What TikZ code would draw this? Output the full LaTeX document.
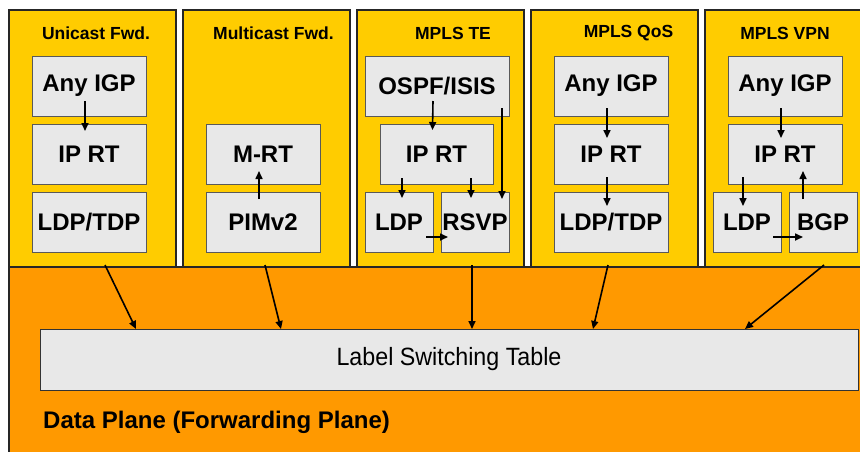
\documentclass[tikz,border=0pt]{standalone}
\usepackage{fontspec}
\setmainfont{Liberation Sans}
\newfontfamily\narrowfont{Liberation Sans}[FakeStretch=0.93]
\usetikzlibrary{arrows.meta,calc}
\definecolor{ctlyellow}{HTML}{FFCC00}
\definecolor{dporange}{HTML}{FF9900}
\definecolor{boxgray}{HTML}{E8E8E8}

\begin{document}
\begin{tikzpicture}[x=1pt,y=-1pt,>={Triangle[length=8pt,width=7pt]},
  col/.style={draw=black!85,line width=1.2pt,fill=ctlyellow,anchor=north west,
    inner sep=0,outer sep=0,minimum height=257pt},
  ttl/.style={font=\bfseries\fontsize{17.5}{20}\selectfont},
  blk/.style={draw=black!65,line width=0.8pt,fill=boxgray,inner sep=0,outer sep=0,
    minimum height=60pt,font=\bfseries\fontsize{24}{26}\selectfont},
  arr/.style={->,line width=1.6pt}]
  \clip (0,0) rectangle (860,451);
  \foreach \x/\w/\name in {9/167/uni,183/167/mul,357/167/te,531/167/qos,705/165/vpn}
    {\node[col,minimum width=\w pt] (\name) at (\x,10) {};}
  \foreach \x/\txt/\name in {96/Unicast Fwd./tuni,273.5/Multicast Fwd./tmul,453/MPLS TE/tte,
      628.5/MPLS QoS/tqos,785/MPLS VPN/tvpn}
    {\node[ttl] (\name) at (\x,33) {\txt};}

  \node[blk,minimum width=114pt] (igpA) at (89,86) {Any IGP};
  \node[blk,minimum width=114pt] (ipA) at (89,154) {IP RT};
  \node[blk,minimum width=114pt] (ldpA) at (89,222) {LDP/TDP};
  \draw[arr] ($(igpA.south)+(-4,-15)$) -- ($(ipA.north)+(-4,7)$);

  \node[blk,minimum width=114pt] (mrt) at (263,154) {M-RT};
  \node[blk,minimum width=114pt] (pim) at (263,222) {PIMv2};
  \draw[arr] ($(pim.north)+(-4,7)$) -- ($(mrt.south)+(-4,-13)$);

  \node[blk,minimum width=144pt] (ospf) at (437,86) {OSPF/ISIS};
  \node[blk,minimum width=113pt] (ipC) at (436.5,154) {IP RT};
  \node[blk,minimum width=68pt] (ldpC) at (399,222) {LDP};
  \node[blk,minimum width=68pt] (rsvp) at (475,222) {RSVP};
  \draw[arr] ($(ospf.south)+(-4,-15)$) -- ($(ipC.north)+(-4,6)$);
  \draw[arr] ($(ldpC.north |- ipC.south)+(3,-6)$) -- ($(ldpC.north)+(3,6)$);
  \draw[arr] ($(rsvp.north |- ipC.south)+(-4,-6)$) -- ($(rsvp.north)+(-4,6)$);
  \draw[arr] ($(ospf.south)+(65,-8)$) -- ($(rsvp.north)+(27,7)$);
  \draw[arr] ($(ldpC.east)+(-7,15)$) -- ($(rsvp.west)+(7,15)$);

  \node[blk,minimum width=114pt] (igpD) at (611,86) {Any IGP};
  \node[blk,minimum width=114pt] (ipD) at (611,154) {IP RT};
  \node[blk,minimum width=114pt] (ldpD) at (611,222) {LDP/TDP};
  \draw[arr] ($(igpD.south)+(-4,-8)$) -- ($(ipD.north)+(-4,14)$);
  \draw[arr] ($(ipD.south)+(-4,-7)$) -- ($(ldpD.north)+(-4,14)$);

  \node[blk,minimum width=114pt] (igpE) at (785,86) {Any IGP};
  \node[blk,minimum width=114pt] (ipE) at (785,154) {IP RT};
  \node[blk,minimum width=68pt] (ldpE) at (747,222) {LDP};
  \node[blk,minimum width=68pt] (bgp) at (823,222) {BGP};
  \draw[arr] ($(igpE.south)+(-4,-8)$) -- ($(ipE.north)+(-4,14)$);
  \draw[arr] ($(ldpE.north |- ipE.south)+(-4,-7)$) -- ($(ldpE.north)+(-4,14)$);
  \draw[arr] ($(bgp.north)+(-20,7)$) -- ($(bgp.north |- ipE.south)+(-20,-13)$);
  \draw[arr] ($(ldpE.east)+(-8,15)$) -- ($(bgp.west)+(14,15)$);

  \node[draw=black!85,line width=1.2pt,fill=dporange,anchor=north west,inner sep=0,outer sep=0,
    minimum width=861pt,minimum height=200pt] (dp) at (9,267) {};
  \node[draw=black!80,line width=0.8pt,fill=boxgray,inner sep=0,outer sep=0,
    minimum width=818pt,minimum height=61pt,
    font=\narrowfont\fontsize{25}{28}\selectfont] (lst) at (449,359.5) {Label Switching Table};
  \node[anchor=west,inner sep=0,font=\bfseries\fontsize{24}{26}\selectfont] (dptxt)
    at (43,422) {Data Plane (Forwarding Plane)};

  \draw[arr] ($(uni.south)+(12.5,-2)$) -- ($(lst.north west)+(96,0)$);
  \draw[arr] ($(mul.south)+(-1.5,-2)$) -- ($(lst.north west)+(241,0)$);
  \draw[arr] ($(te.south)+(31.5,-2)$) -- ($(lst.north west)+(432,0)$);
  \draw[arr] ($(qos.south)+(-6.5,-2)$) -- ($(lst.north west)+(553,0)$);
  \draw[arr] ($(vpn.south)+(36.5,-2)$) -- ($(lst.north west)+(705,0)$);
\end{tikzpicture}
\end{document}
